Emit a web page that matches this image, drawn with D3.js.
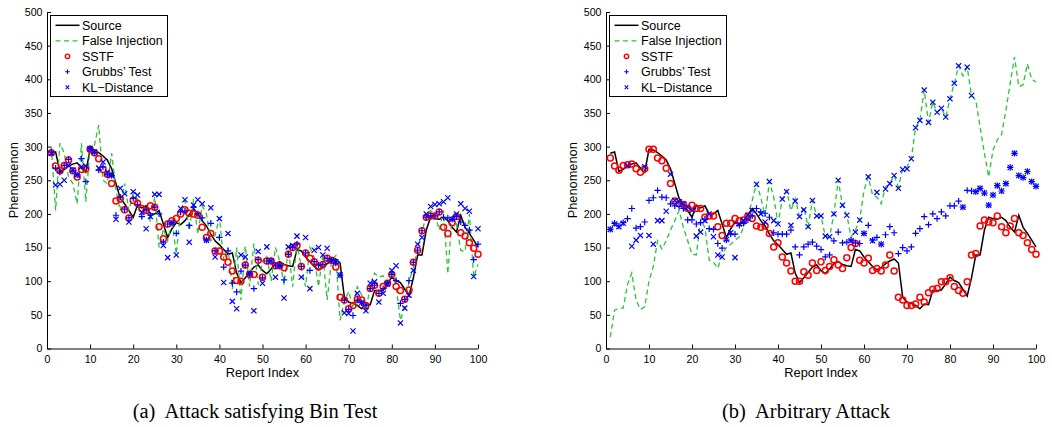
<!DOCTYPE html>
<html>
<head>
<meta charset="utf-8">
<script src="https://cdn.jsdelivr.net/npm/d3@7"></script>
<style>
  body { margin: 0; background: #fff; }
  svg text { font-family: "Liberation Sans", Arial, Helvetica, sans-serif; }
  svg text.caption { font-family: "Liberation Serif", "Times New Roman", serif; }
</style>
</head>
<body>
<svg id="fig" width="1052" height="427"></svg>
<script>
// Report index 1..100 shared by every series
const reportIndex = d3.range(1, 101);

const xTicks = [0, 10, 20, 30, 40, 50, 60, 70, 80, 90, 100];
const yTicks = [0, 50, 100, 150, 200, 250, 300, 350, 400, 450, 500];

const seriesNames = ["Source", "False Injection", "SSTF", "Grubbs\u2019 Test", "KL\u2212Distance"];
const captions = ["(a)  Attack satisfying Bin Test", "(b)  Arbitrary Attack"];

// True phenomenon reported by the source
const source = [
  290, 292, 263, 266, 271, 274, 276, 268, 262, 296,
  295, 291, 286, 280, 267, 245, 223, 215, 205, 195,
  213, 209, 212, 200, 200, 205, 185, 165, 178, 187,
  184, 190, 199, 208, 200, 190, 182, 170, 160, 154,
  147, 140, 142, 112, 98, 105, 113, 121, 124, 116,
  111, 118, 126, 129, 125, 123, 122, 147, 145, 136,
  129, 122, 117, 120, 126, 130, 133, 127, 76, 69,
  67, 64, 59, 66, 65, 86, 86, 87, 96, 106,
  101, 98, 88, 78, 105, 139, 139, 176, 195, 193,
  192, 195, 190, 180, 173, 198, 180, 171, 161, 151
];

// (a) attack that satisfies the bin test
const binInjected = [
  300, 205, 305, 290, 255, 245, 215, 305, 218, 300,
  302, 332, 250, 245, 290, 235, 205, 245, 205, 230,
  222, 195, 210, 188, 225, 150, 178, 160, 190, 140,
  205, 220, 175, 222, 170, 212, 200, 160, 168, 195,
  130, 150, 88, 150, 72, 152, 92, 156, 95, 130,
  138, 100, 150, 130, 95, 148, 92, 156, 120, 92,
  150, 135, 92, 140, 72, 130, 138, 42, 70, 85,
  60, 92, 80, 54, 95, 112, 106, 108, 98, 116,
  92, 42, 62, 100, 120, 150, 173, 198, 205, 200,
  176, 205, 111, 200, 185, 146, 144, 200, 106, 125
];
const binSSTF = [
  291, 271, 264, 272, 280, 264, 255, 266, 267, 296,
  291, 282, 266, 259, 245, 219, 222, 206, 194, 220,
  216, 208, 205, 212, 210, 181, 163, 185, 190, 193,
  200, 206, 201, 200, 198, 180, 165, 171, 145, 145,
  136, 128, 115, 101, 100, 124, 110, 110, 131, 106,
  130, 130, 123, 123, 120, 140, 150, 153, 122, 142,
  134, 129, 121, 125, 134, 131, 121, 76, 72, 59,
  64, 73, 72, 64, 89, 94, 82, 92, 97, 110,
  92, 86, 73, 87, 128, 146, 175, 195, 197, 197,
  203, 180, 171, 187, 196, 172, 167, 157, 149, 140
];
const binGrubbs = [
  292, 268, 262, 272, 281, 264, 258, 282, 248, 297,
  291, 265, 270, 258, 257, 198, 225, 207, 194, 223,
  214, 196, 206, 198, 210, 200, 158, 185, 187, 171,
  203, 204, 183, 210, 200, 194, 161, 186, 145, 165,
  121, 145, 97, 84, 115, 124, 111, 89, 132, 105,
  130, 130, 123, 123, 102, 140, 150, 155, 122, 142,
  116, 129, 124, 125, 134, 131, 127, 109, 72, 58,
  49, 72, 68, 64, 89, 94, 82, 89, 97, 110,
  101, 67, 73, 101, 128, 146, 175, 195, 197, 197,
  203, 195, 194, 192, 196, 188, 183, 176, 132, 155
];
const binKL = [
  290, 243, 244, 250, 272, 265, 258, 270, 271, 297,
  292, 268, 277, 262, 257, 192, 238, 230, 188, 233,
  228, 202, 178, 196, 229, 229, 153, 135, 187, 139,
  208, 221, 158, 213, 221, 215, 161, 209, 136, 193,
  98, 171, 70, 59, 139, 136, 111, 56, 144, 97,
  151, 130, 106, 123, 75, 151, 153, 167, 106, 165,
  89, 146, 150, 139, 149, 131, 129, 109, 53, 52,
  26, 82, 68, 56, 97, 99, 69, 82, 96, 116,
  123, 38, 60, 79, 116, 155, 165, 200, 211, 214,
  215, 218, 224, 192, 200, 215, 208, 204, 107, 178
];

// (b) arbitrary attack
const arbInjected = [
  17, 57, 60, 60, 95, 112, 72, 58, 62, 100,
  122, 160, 148, 160, 176, 190, 205, 180, 160, 140,
  139, 191, 180, 131, 128, 119, 140, 150, 155, 161,
  166, 180, 196, 220, 245, 225, 196, 248, 225, 186,
  222, 235, 205, 223, 196, 210, 181, 220, 197, 197,
  167, 166, 200, 250, 213, 198, 166, 176, 191, 235,
  255, 228, 225, 215, 240, 245, 257, 240, 267, 270,
  282, 329, 339, 384, 336, 366, 351, 357, 344, 371,
  394, 420, 405, 418, 376, 369, 329, 290, 255, 295,
  310, 318, 354, 394, 433, 389, 392, 423, 400, 396
];
const arbSSTF = [
  283, 271, 265, 272, 273, 274, 267, 262, 267, 296,
  296, 283, 279, 268, 245, 219, 215, 214, 208, 213,
  208, 208, 195, 197, 197, 181, 168, 186, 186, 193,
  190, 191, 197, 193, 182, 180, 182, 171, 151, 157,
  136, 127, 115, 100, 100, 114, 109, 127, 116, 129,
  116, 122, 132, 124, 119, 135, 150, 156, 131, 127,
  134, 116, 119, 115, 124, 139, 115, 76, 72, 64,
  64, 66, 76, 69, 83, 88, 89, 99, 99, 105,
  92, 86, 82, 99, 139, 141, 182, 191, 188, 187,
  197, 181, 172, 182, 193, 172, 168, 157, 147, 140
];
const arbGrubbs = [
  177, 186, 182, 187, 193, 208, 179, 181, 188, 220,
  224, 235, 225, 224, 215, 212, 211, 208, 191, 191,
  185, 187, 192, 178, 177, 156, 149, 161, 170, 170,
  183, 186, 191, 197, 208, 203, 201, 195, 172, 170,
  170, 170, 176, 151, 139, 151, 155, 158, 152, 147,
  136, 139, 160, 173, 157, 158, 161, 157, 156, 171,
  183, 161, 165, 155, 169, 181, 172, 141, 150, 145,
  151, 171, 178, 196, 184, 200, 193, 203, 197, 212,
  212, 219, 210, 235, 234, 233, 238, 231, 213, 228,
  242, 234, 245, 269, 290, 257, 254, 263, 248, 241
];
const arbKL = [
  177, 185, 181, 186, 272, 152, 161, 168, 270, 168,
  155, 190, 190, 204, 259, 220, 218, 215, 210, 205,
  167, 173, 190, 200, 166, 139, 136, 162, 172, 135,
  185, 190, 198, 205, 244, 200, 188, 248, 190, 185,
  222, 233, 183, 219, 196, 206, 181, 220, 197, 197,
  167, 166, 200, 250, 213, 198, 160, 173, 191, 171,
  255, 160, 232, 155, 237, 245, 257, 238, 266, 267,
  282, 328, 339, 384, 336, 366, 351, 357, 344, 371,
  394, 420, 210, 418, 376, 233, 238, 231, 213, 228,
  242, 234, 245, 269, 290, 257, 254, 263, 248, 241
];

// ---- drawing ----
const svg = d3.select("#fig");
const COLORS = { source: "#000000", inject: "#2cc43a", sstf: "#ff0000", test: "#0000ff" };
const TOP = 12, BOTTOM = 348.5;

const panels = [
  { x0: 47, x1: 478, capX: 255, caption: captions[0],
    injected: binInjected, sstf: binSSTF, grubbs: binGrubbs, kl: binKL },
  { x0: 606, x1: 1036, capX: 806, caption: captions[1],
    injected: arbInjected, sstf: arbSSTF, grubbs: arbGrubbs, kl: arbKL }
];

const plusPath = "M-3.2,0H3.2M0,-3.2V3.2";
const crossPath = "M-2.6,-2.6L2.6,2.6M-2.6,2.6L2.6,-2.6";

panels.forEach(p => {
  const x = d3.scaleLinear().domain([0, 100]).range([p.x0, p.x1]);
  const y = d3.scaleLinear().domain([0, 500]).range([BOTTOM, TOP]);
  const g = svg.append("g");

  // axes (inward ticks, no box)
  const xAxis = d3.axisBottom(x).tickValues(xTicks).tickSizeInner(-4).tickSizeOuter(0).tickPadding(6.5);
  const yAxis = d3.axisLeft(y).tickValues(yTicks).tickSizeInner(-4).tickSizeOuter(0).tickPadding(4.5);
  const gx = g.append("g").attr("transform", `translate(0,${BOTTOM})`).call(xAxis);
  const gy = g.append("g").attr("transform", `translate(${p.x0},0)`).call(yAxis);
  [gx, gy].forEach(a => {
    a.selectAll("path.domain").attr("stroke", "#000").attr("stroke-width", 1);
    a.selectAll(".tick line").attr("stroke", "#000").attr("stroke-width", 1);
    a.selectAll(".tick text").attr("fill", "#000").style("font-size", "10.6px");
  });

  g.append("text").attr("x", (p.x0 + p.x1) / 2).attr("y", 376.5)
    .attr("text-anchor", "middle").style("font-size", "12.8px").text("Report Index");
  g.append("text").attr("transform", `translate(${p.x0 - 29},${(TOP + BOTTOM) / 2}) rotate(-90)`)
    .attr("text-anchor", "middle").style("font-size", "12.8px").text("Phenomenon");
  g.append("text").attr("class", "caption").attr("x", p.capX).attr("y", 418.3)
    .attr("text-anchor", "middle").style("font-size", "20.5px").style("white-space", "pre")
    .attr("xml:space", "preserve").text(p.caption);

  const line = vals => d3.line().x((d, i) => x(reportIndex[i])).y(d => y(d))(vals);

  g.append("path").attr("d", line(source)).attr("fill", "none")
    .attr("stroke", COLORS.source).attr("stroke-width", 1.5);
  g.append("path").attr("d", line(p.injected)).attr("fill", "none")
    .attr("stroke", COLORS.inject).attr("stroke-width", 1.3).attr("stroke-dasharray", "5,3.5");

  g.append("g").selectAll("circle").data(p.sstf).join("circle")
    .attr("cx", (d, i) => x(reportIndex[i])).attr("cy", d => y(d)).attr("r", 3.0)
    .attr("fill", "none").attr("stroke", COLORS.sstf).attr("stroke-width", 1.5);
  g.append("g").selectAll("path").data(p.grubbs).join("path")
    .attr("transform", (d, i) => `translate(${x(reportIndex[i])},${y(d)})`)
    .attr("d", plusPath).attr("stroke", COLORS.test).attr("stroke-width", 1.2);
  g.append("g").selectAll("path").data(p.kl).join("path")
    .attr("transform", (d, i) => `translate(${x(reportIndex[i])},${y(d)})`)
    .attr("d", crossPath).attr("stroke", COLORS.test).attr("stroke-width", 1.2);

  // legend
  const lx = p.x0 + 3.5, ly = 15.5;
  const lg = g.append("g").attr("transform", `translate(${lx},${ly})`);
  lg.append("rect").attr("width", 117).attr("height", 81)
    .attr("fill", "#fff").attr("stroke", "#000").attr("stroke-width", 1);
  seriesNames.forEach((name, k) => {
    const ry = 9.8 + k * 15.5;
    const mx = 17;
    if (k === 0) {
      lg.append("line").attr("x1", 5).attr("x2", 29).attr("y1", ry).attr("y2", ry)
        .attr("stroke", COLORS.source).attr("stroke-width", 1.5);
    } else if (k === 1) {
      lg.append("line").attr("x1", 5).attr("x2", 29).attr("y1", ry).attr("y2", ry)
        .attr("stroke", COLORS.inject).attr("stroke-width", 1.3).attr("stroke-dasharray", "5,3.5");
    } else if (k === 2) {
      lg.append("circle").attr("cx", mx).attr("cy", ry).attr("r", 2.2)
        .attr("fill", "none").attr("stroke", COLORS.sstf).attr("stroke-width", 1.4);
    } else if (k === 3) {
      lg.append("path").attr("transform", `translate(${mx},${ry}) scale(0.7)`).attr("d", plusPath)
        .attr("stroke", COLORS.test).attr("stroke-width", 1.5);
    } else {
      lg.append("path").attr("transform", `translate(${mx},${ry}) scale(0.7)`).attr("d", crossPath)
        .attr("stroke", COLORS.test).attr("stroke-width", 1.5);
    }
    lg.append("text").attr("x", 31.5).attr("y", ry).attr("dy", "0.36em")
      .style("font-size", "12.5px").text(name);
  });
});
</script>
</body>
</html>
